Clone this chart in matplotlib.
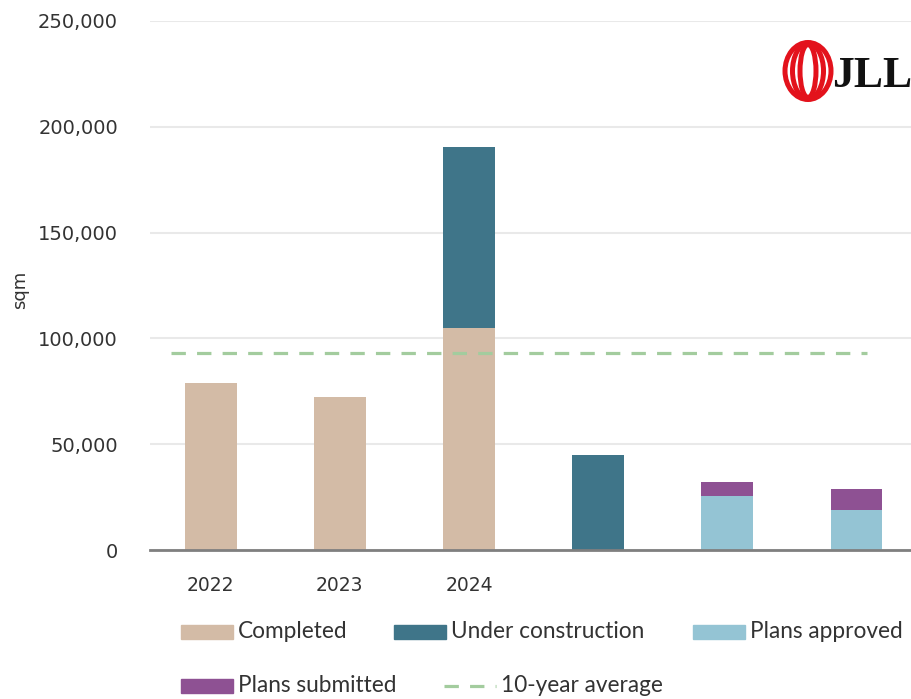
import matplotlib.pyplot as plt
from matplotlib.patches import Ellipse, Rectangle
from matplotlib.lines import Line2D
import numpy as np


# Data
categories = ["2022", "2023", "2024", "", "", ""]
completed = [79000, 72500, 105000, 0, 0, 0]
under_construction = [0, 0, 85500, 45000, 0, 0]
plans_approved = [0, 0, 0, 0, 25500, 19000]
plans_submitted = [0, 0, 0, 0, 6600, 9900]
ten_year_avg = 93000

c_completed = "#d3bba6"
c_under = "#3f7589"
c_approved = "#94c4d4"
c_submitted = "#8e5193"
c_avg = "#a3cc9e"

fig = plt.figure(figsize=(9.12, 6.99), dpi=100)
ax = fig.add_axes([150 / 912, 149 / 699, 771 / 912, 529 / 699])

x = np.arange(len(categories))
w = 0.40

ax.bar(x, completed, w, color=c_completed, zorder=3)
bottom = np.array(completed)
ax.bar(x, under_construction, w, bottom=bottom, color=c_under, zorder=3)
bottom = bottom + np.array(under_construction)
ax.bar(x, plans_approved, w, bottom=bottom, color=c_approved, zorder=3)
bottom = bottom + np.array(plans_approved)
ax.bar(x, plans_submitted, w, bottom=bottom, color=c_submitted, zorder=3)

ax.hlines(ten_year_avg, -0.31, 5.08, colors=c_avg, linewidth=2.3,
          linestyles=(0, (4.5, 3.5)), zorder=4)

ax.set_xlim(-0.47, 5.5)
ax.set_ylim(0, 250000)
ax.set_yticks(np.arange(0, 250001, 50000))
ax.yaxis.set_major_formatter(plt.FuncFormatter(lambda v, p: f"{int(v):,}"))
ax.set_xticks(x)
ax.set_xticklabels(categories)
ax.grid(axis="y", color="#e9e9e9", linewidth=1.5, zorder=0)
ax.tick_params(axis="y", length=0, pad=23, labelsize=14, labelcolor="#333333")
ax.tick_params(axis="x", length=0, pad=19, labelsize=13.5, labelcolor="#333333")
for s in ["top", "right", "left"]:
    ax.spines[s].set_visible(False)
ax.spines["bottom"].set_color("#7f7f7f")
ax.spines["bottom"].set_linewidth(2)
ax.spines["bottom"].set_zorder(5)

fig.text(20 / 912, 1 - 290 / 699, "sqm", rotation=90, ha="center", va="center",
         fontsize=13, color="#333333")

# Legend (flow layout, drawn by hand)
leg_font = dict(fontsize=16.3, color="#333333", family="Lato", va="center")
items = [
    (181, 632, "patch", c_completed, "Completed"),
    (394, 632, "patch", c_under, "Under construction"),
    (693, 632, "patch", c_approved, "Plans approved"),
    (181, 686, "patch", c_submitted, "Plans submitted"),
    (444, 686, "line", c_avg, "10-year average"),
]
for px, py, kind, col, label in items:
    if kind == "patch":
        fig.patches.append(Rectangle((px / 912, 1 - (py + 7) / 699), 52 / 912, 14 / 699,
                                     transform=fig.transFigure, color=col))
    else:
        fig.lines.append(Line2D([px / 912, (px + 52) / 912], [1 - py / 699, 1 - py / 699],
                                transform=fig.transFigure, color=col, linewidth=2.3,
                                linestyle=(0, (4.5, 3.5))))
    fig.text((px + 57) / 912, 1 - py / 699, label, **leg_font)

# JLL logo
lax = fig.add_axes([780 / 912, (699 - 104) / 699, 132 / 912, 66 / 699])
lax.set_xlim(0, 132)
lax.set_ylim(0, 66)
lax.axis("off")
for ew, eh in [(46, 57), (31, 55), (16, 53)]:
    lax.add_patch(Ellipse((28, 33), ew, eh, fill=False, edgecolor="#e3121c", linewidth=3.6))
lax.text(52, 17, "JLL", fontsize=31.5, fontweight="bold", family="Liberation Serif",
         color="#111111", va="baseline", ha="left")

fig.savefig("out.png", dpi=100)
